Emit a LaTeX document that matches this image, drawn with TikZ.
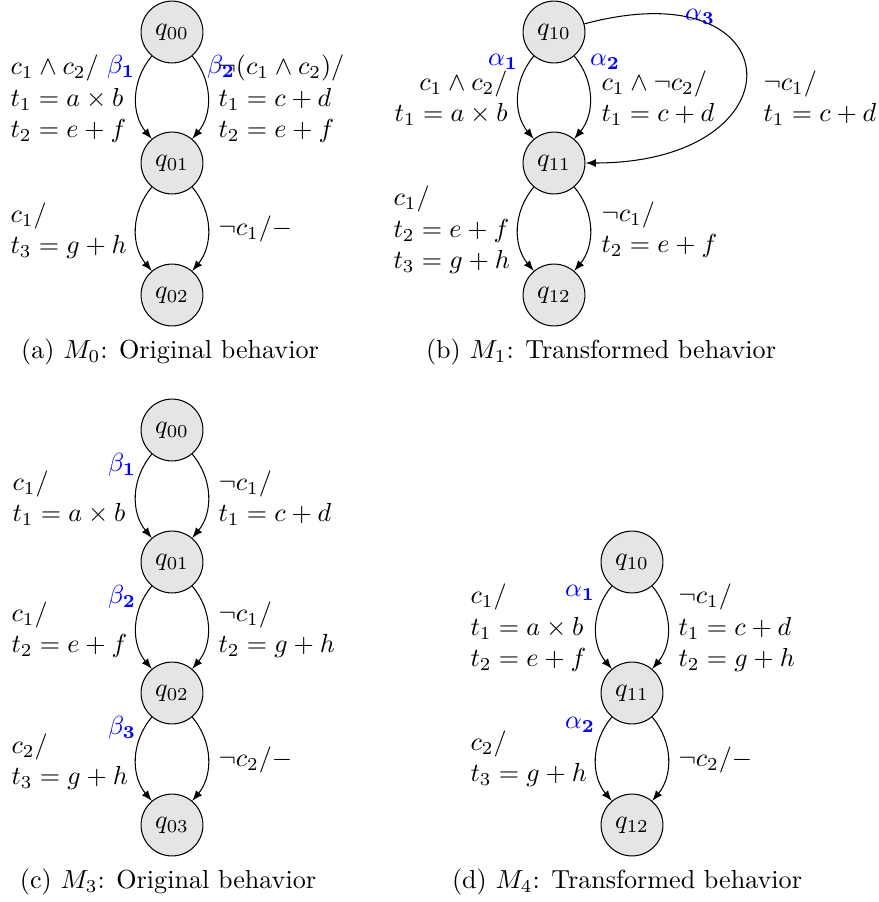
\documentclass[tikz,border=0pt]{standalone}
\begin{document}
\begin{tikzpicture}[x=0.3831pt,y=-0.3831pt,
  state/.style={circle,draw,fill=gray!20,minimum size=23.7pt,inner sep=0pt},
  trans/.style={->,>=latex},
  guard/.style={anchor=west,align=left,inner sep=0pt},
  tag/.style={text=blue,inner sep=0pt}]
\useasboundingbox (0,0) rectangle (878,902);
% (a) original behaviour M0
\node[state] (a0) at (172,32) {$q_{00}$};
\node[state] (a1) at (172,163) {$q_{01}$};
\node[state] (a2) at (172,295) {$q_{02}$};
\draw[trans] (a0) to[bend right=40] (a1);
\draw[trans] (a0) to[bend left=40] (a1);
\draw[trans] (a1) to[bend right=40] (a2);
\draw[trans] (a1) to[bend left=40] (a2);
\node[guard] (a0l) at (10,99) {$c_1\wedge c_2/$\\$t_1=a\times b$\\$t_2=e+f$};
\node[guard] (a0r) at (218,99) {$\neg(c_1\wedge c_2)/$\\$t_1=c+d$\\$t_2=e+f$};
\node[tag] (a0lb) at (121,67) {$\beta_{\mathbf{1}}$};
\node[tag] (a0rb) at (221,67) {$\beta_{\mathbf{2}}$};
\node[guard] (a1l) at (10,231) {$c_1/$\\$t_3=g+h$};
\node[guard] (a1r) at (218,229) {$\neg c_1/-$};
\node (acap) at (170,352) {(a) $M_0$: Original behavior};
% (b) transformed behaviour M1
\node[state] (b0) at (554,32) {$q_{10}$};
\node[state] (b1) at (554,163) {$q_{11}$};
\node[state] (b2) at (554,295) {$q_{12}$};
\draw[trans] (b0) to[bend right=40] (b1);
\draw[trans] (b0) to[bend left=40] (b1);
\draw[trans] (b0) to[out=15,in=0,looseness=4] (b1);
\draw[trans] (b1) to[bend right=40] (b2);
\draw[trans] (b1) to[bend left=40] (b2);
\node[guard,anchor=east,align=right] (b0l) at (508,98) {$c_1\wedge c_2/$\\$t_1=a\times b$};
\node[guard] (b0r) at (601,98) {$c_1\wedge\neg c_2/$\\$t_1=c+d$};
\node[guard] (b0f) at (763,98) {$\neg c_1/$\\$t_1=c+d$};
\node[tag] (b0lb) at (503,62) {$\alpha_{\mathbf{1}}$};
\node[tag] (b0rb) at (605,62) {$\alpha_{\mathbf{2}}$};
\node[tag] (b0fb) at (700,17) {$\alpha_{\mathbf{3}}$};
\node[guard] (b1l) at (393,230) {$c_1/$\\$t_2=e+f$\\$t_3=g+h$};
\node[guard] (b1r) at (601,230) {$\neg c_1/$\\$t_2=e+f$};
\node (bcap) at (601,352) {(b) $M_1$: Transformed behavior};
% (c) original behaviour M3
\node[state] (c0) at (172,430) {$q_{00}$};
\node[state] (c1) at (172,562) {$q_{01}$};
\node[state] (c2) at (172,693) {$q_{02}$};
\node[state] (c3) at (172,825) {$q_{03}$};
\foreach \u/\v in {c0/c1,c1/c2,c2/c3}{
  \draw[trans] (\u) to[bend right=40] (\v);
  \draw[trans] (\u) to[bend left=40] (\v);
}
\node[guard] (c0l) at (12,498) {$c_1/$\\$t_1=a\times b$};
\node[guard] (c0r) at (218,498) {$\neg c_1/$\\$t_1=c+d$};
\node[tag] (c0lb) at (122,465) {$\beta_{\mathbf{1}}$};
\node[guard] (c1l) at (11,630) {$c_1/$\\$t_2=e+f$};
\node[guard] (c1r) at (218,630) {$\neg c_1/$\\$t_2=g+h$};
\node[tag] (c1lb) at (122,597) {$\beta_{\mathbf{2}}$};
\node[guard] (c2l) at (11,762) {$c_2/$\\$t_3=g+h$};
\node[guard] (c2r) at (218,760) {$\neg c_2/-$};
\node[tag] (c2lb) at (122,728) {$\beta_{\mathbf{3}}$};
\node (ccap) at (168,882) {(c) $M_3$: Original behavior};
% (d) transformed behaviour M4
\node[state] (d0) at (632,562) {$q_{10}$};
\node[state] (d1) at (632,693) {$q_{11}$};
\node[state] (d2) at (632,825) {$q_{12}$};
\foreach \u/\v in {d0/d1,d1/d2}{
  \draw[trans] (\u) to[bend right=40] (\v);
  \draw[trans] (\u) to[bend left=40] (\v);
}
\node[guard] (d0l) at (470,628) {$c_1/$\\$t_1=a\times b$\\$t_2=e+f$};
\node[guard] (d0r) at (678,628) {$\neg c_1/$\\$t_1=c+d$\\$t_2=g+h$};
\node[tag] (d0lb) at (580,593) {$\alpha_{\mathbf{1}}$};
\node[guard] (d1l) at (470,759) {$c_2/$\\$t_3=g+h$};
\node[guard] (d1r) at (678,760) {$\neg c_2/-$};
\node[tag] (d1lb) at (580,725) {$\alpha_{\mathbf{2}}$};
\node (dcap) at (627,882) {(d) $M_4$: Transformed behavior};
\end{tikzpicture}
\end{document}
